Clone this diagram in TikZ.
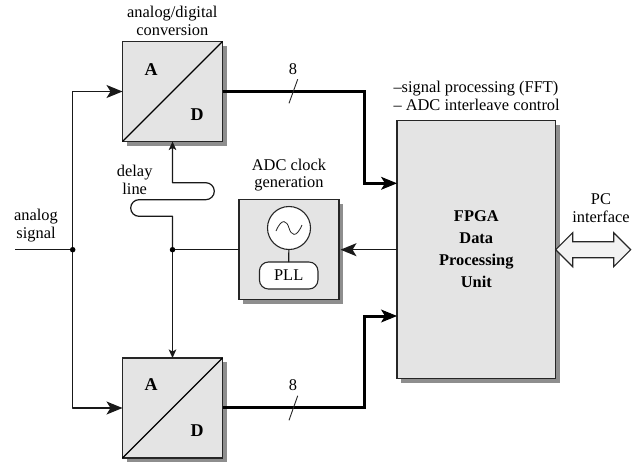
\documentclass[tikz,border=0pt]{standalone}
\usepackage{fontspec}
\setmainfont{Liberation Serif}
\usetikzlibrary{arrows.meta,shadows,calc}
\definecolor{boxgray}{HTML}{E4E4E4}
\definecolor{shadowgray}{HTML}{8E8E8E}
\definecolor{pcfill}{HTML}{F2F2F2}
\tikzset{
  x=1pt,y=-1pt,
  every node/.style={font=\fontsize{16.4}{17.8}\selectfont,inner sep=0pt,outer sep=0pt},
  sqbox/.style={draw=black!85,line width=1.2pt,fill=boxgray,rectangle,
    drop shadow={shadow xshift=4pt,shadow yshift=-4pt,fill=shadowgray,opacity=1}},
  adcbox/.style={sqbox,minimum width=100pt,minimum height=100pt},
  lab/.style={align=center},
  bigarrow/.style={-{Stealth[length=16pt,width=13pt,inset=4pt]}},
  smallarrow/.style={-{Stealth[length=8.5pt,width=7.5pt,inset=2pt]}},
  sig/.style={line width=1.2pt,black!90,line join=round},
  bus/.style={line width=3pt,black,line join=miter},
  junction/.style={circle,fill=black,minimum size=5.5pt},
  bold/.style={font=\fontsize{18}{22}\selectfont\bfseries},
  boldtxt/.style={font=\fontsize{16.4}{22}\selectfont\bfseries}
}
\begin{document}
\begin{tikzpicture}
\useasboundingbox (0,0) rectangle (644,463);
% blocks
\node[adcbox] (adcA) at (172.5,91.5) {};
\node[adcbox] (adcB) at (172.5,408) {};
\node[adcbox] (clk) at (289,249.7) {};
\node[sqbox,minimum width=158.7pt,minimum height=258pt] (fpga) at (476.3,249.7) {};
\draw[line width=1.2pt,black] (adcA.south west) -- (adcA.north east);
\draw[line width=1.2pt,black] (adcB.south west) -- (adcB.north east);
% block letters
\node[bold] (a1) at (151,69.5) {A};
\node[bold] (d1) at (197,115) {D};
\node[bold] (a2) at (151,385) {A};
\node[bold] (d2) at (197,431) {D};
\node[boldtxt,align=center] (fpgatext) at (476.3,249.5) {FPGA\\Data\\Processing\\Unit};
% oscillator and PLL
\node[circle,draw=black!85,line width=1.1pt,fill=white,minimum size=43pt] (osc) at (289,228) {};
\node[rectangle,rounded corners=9pt,draw=black!85,line width=1.1pt,fill=white,minimum width=58.5pt,minimum height=27pt] (pll) at (288.7,275.5) {PLL};
\draw[sig] (osc) -- (pll);
\draw[line width=0.8pt,black!85] ($(osc.center)+(-13,3)$) .. controls ($(osc.center)+(-7,-11)$) and ($(osc.center)+(-2,-7)$) .. ($(osc.center)+(0,0)$) .. controls ($(osc.center)+(2,7)$) and ($(osc.center)+(7,11)$) .. ($(osc.center)+(13,-3)$);
% labels
\node[lab] (lconv) at (172.3,21) {analog/digital\\conversion};
\node[lab] (ldelay) at (134.7,179.5) {delay\\line};
\node[lab] (lclk) at (289,175) {ADC clock\\generation};
\node[lab] (lsig) at (36,225.5) {analog\\signal};
\node[align=left,anchor=west] (lfpga) at (393.5,96) {–signal processing (FFT)\\– ADC interleave control};
\node[lab] (lpc) at (601,208) {PC\\interface};
% analog input
\coordinate (in) at (15,249.7);
\node[junction] (j1) at (72.7,249.7) {};
\draw[sig] (in) -- (j1);
\draw[sig,bigarrow] (j1) |- (adcA.west);
\draw[sig,bigarrow] (j1) |- (adcB.west);
% clock distribution
\node[junction] (j2) at (172.5,249.7) {};
\draw[sig] (clk.west) -- (j2);
\coordinate (dl1) at (172.5,216.3);
\coordinate (dl2) at (139,216.3);
\coordinate (dl4) at (205.8,199.7);
\coordinate (dl6) at (172.5,182.7);
\coordinate (tipclk) at (340.5,249.7);
\draw[sig,smallarrow] (j2) -- (dl1) -- (dl2) arc[start angle=270,end angle=90,radius=8.3pt] -- (dl4) arc[start angle=270,end angle=450,radius=8.5pt] -- (dl6) -- (adcA.south);
\draw[sig,smallarrow] (j2) -- (adcB.north);
\draw[sig,bigarrow] (fpga.west) -- (tipclk);
% data buses
\coordinate (b1) at (364,91);
\coordinate (b2) at (364,183.3);
\coordinate (c1) at (364,407.3);
\coordinate (c2) at (364,316);
\coordinate (f1) at (397,183.3);
\coordinate (f2) at (397,316);
\draw[bus] (222.5,91) -- (b1) -- (b2) -- (388,183.3);
\draw[bus] (222.5,407.3) -- (c1) -- (c2) -- (388,316);
\draw[line width=1pt,bigarrow,black] (383,183.3) -- (f1);
\draw[line width=1pt,bigarrow,black] (383,316) -- (f2);
\coordinate (s1a) at (289,103.3);
\coordinate (s1b) at (297.7,79.3);
\coordinate (s2a) at (289,420.3);
\coordinate (s2b) at (297.7,395.8);
\draw[line width=0.9pt,black!85] (s1a) -- (s1b);
\draw[line width=0.9pt,black!85] (s2a) -- (s2b);
\node (n8a) at (293,69.5) {8};
\node (n8b) at (293,385.5) {8};
% PC interface
\draw[line width=1.1pt,black!85,fill=pcfill,line join=miter]
  (555.7,249.7) -- (572.7,232.7) -- (572.7,241.7) -- (613.7,241.7) -- (613.7,232.7) -- (630.7,249.7)
  -- (613.7,266.7) -- (613.7,257.7) -- (572.7,257.7) -- (572.7,266.7) -- cycle;
\end{tikzpicture}
\end{document}
